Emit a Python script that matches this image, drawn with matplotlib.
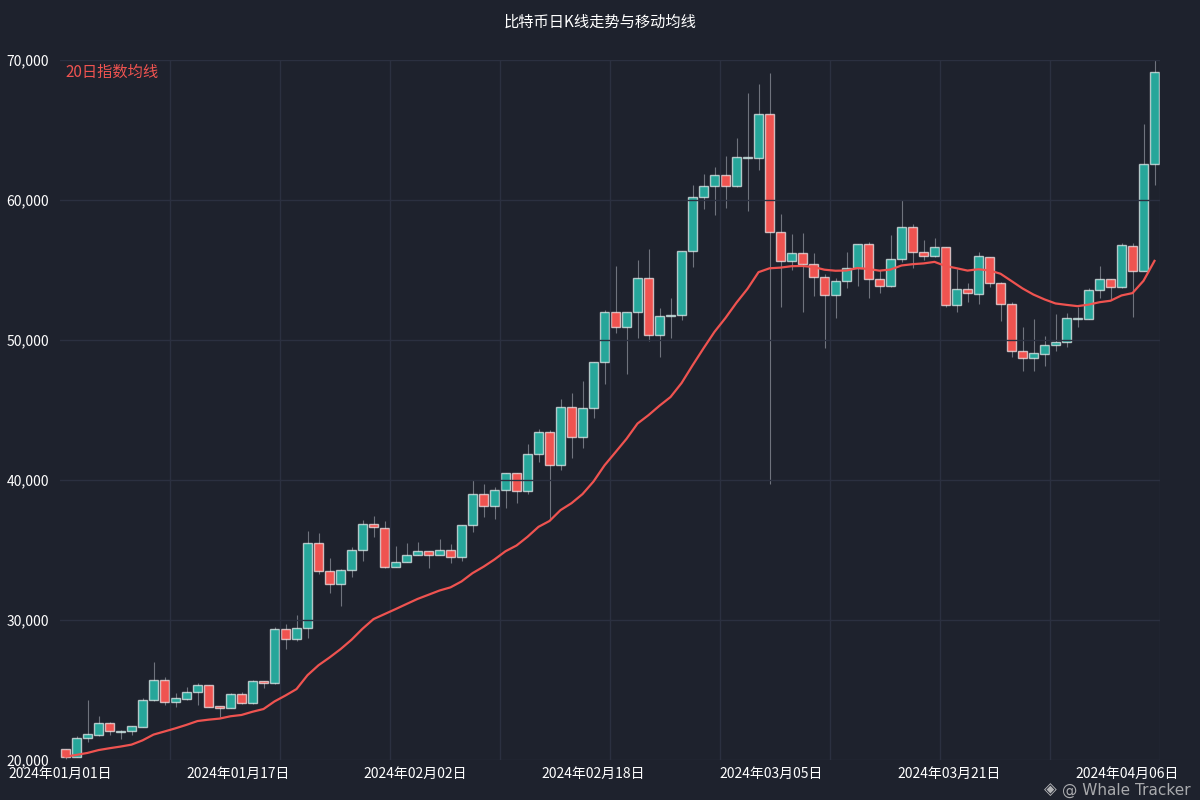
import numpy as np
import pandas as pd
import matplotlib
matplotlib.use("Agg")
import matplotlib.pyplot as plt
from matplotlib.ticker import FuncFormatter

plt.rcParams['font.family'] = ['Noto Sans CJK SC', 'DejaVu Sans']

# daily OHLC
opens = [20760, 20190, 21550, 21790, 22660, 22000, 22050, 22380, 24290, 25710,
         24160, 24360, 24860, 25360, 23840, 23690, 24710, 24090, 25620, 25480,
         29340, 28640, 29410, 35480, 33520, 32570, 33570, 34980, 36840, 36590,
         33810, 34140, 34620, 34930, 34660, 35020, 34480, 36760, 38980, 38160,
         39260, 40480, 39210, 41860, 43410, 41050, 45210, 43050, 45160, 48450,
         51980, 50950, 51980, 54410, 50340, 51690, 51810, 56360, 60190, 61000,
         61790, 61000, 62970, 63020, 66140, 57740, 55640, 56240, 55430, 54520,
         53190, 54240, 55120, 56860, 54340, 53860, 55790, 58070, 56310, 55980,
         56620, 52500, 53620, 53290, 55950, 54090, 52570, 49240, 48690, 49000,
         49620, 49840, 51500, 51500, 53570, 54340, 53790, 56740, 54950, 62590]
highs = [20790, 21710, 24290, 23140, 22710, 22110, 22430, 24450, 27020, 25910,
         24760, 25190, 25480, 25390, 23860, 24810, 24880, 25680, 25640, 29520,
         29710, 30360, 36360, 36240, 34410, 33610, 35240, 37140, 37430, 37070,
         35290, 35480, 35570, 34960, 35790, 35410, 36790, 40000, 39710, 39520,
         40500, 40500, 42570, 43620, 43570, 45760, 46190, 47070, 48460, 52140,
         55290, 52000, 55720, 56480, 52290, 52980, 56390, 61070, 61840, 62340,
         63140, 64450, 67620, 68270, 69050, 59000, 57550, 57620, 56240, 54710,
         54410, 56310, 56890, 57020, 55000, 57500, 60000, 58270, 57140, 57310,
         56640, 55070, 54090, 56310, 55960, 54110, 52740, 50950, 51500, 50290,
         51840, 51950, 52380, 53740, 55310, 54360, 56910, 56950, 65430, 70000]
lows = [20070, 20180, 21310, 21710, 21790, 21520, 21790, 22340, 24250, 23930,
        23810, 24320, 23930, 23790, 23090, 23680, 24000, 24000, 25160, 25460,
        27910, 28500, 28690, 33260, 31910, 31020, 33050, 34240, 35950, 33750,
        33790, 34110, 34610, 33710, 34640, 34090, 34240, 36310, 37380, 37210,
        38020, 38380, 38980, 41310, 37140, 40710, 41550, 42260, 44410, 46840,
        50520, 47550, 50160, 49930, 48810, 50160, 51430, 55190, 59340, 58930,
        59450, 60930, 59240, 62140, 39710, 52380, 55000, 52020, 53140, 49450,
        51590, 53740, 53860, 52980, 53340, 53820, 55590, 55170, 55720, 55960,
        52340, 52020, 52690, 52570, 53810, 51380, 48810, 47810, 47810, 48170,
        49210, 49520, 50910, 51470, 52980, 52910, 53750, 51670, 54930, 61070]
closes = [20240, 21550, 21840, 22640, 22090, 22090, 22410, 24290, 25740, 24160,
          24410, 24860, 25360, 23810, 23690, 24710, 24090, 25640, 25480, 29340,
          28640, 29410, 35480, 33520, 32570, 33570, 34980, 36840, 36620, 33810,
          34140, 34620, 34930, 34660, 34980, 34480, 36760, 38980, 38160, 39260,
          40480, 39210, 41860, 43410, 41050, 45210, 43050, 45160, 48450, 51980,
          50950, 51980, 54410, 50340, 51710, 51810, 56360, 60190, 61000, 61790,
          61000, 63050, 63040, 66140, 57740, 55640, 56240, 55430, 54520, 53190,
          54240, 55120, 56860, 54340, 53880, 55770, 58070, 56310, 55980, 56640,
          52500, 53620, 53340, 55980, 54090, 52550, 49240, 48690, 49050, 49640,
          49860, 51550, 51550, 53550, 54340, 53810, 56770, 54950, 62570, 69170]
dates = pd.date_range('2024-01-01', periods=len(closes), freq='D')
ma_span = 20
y_ticks = [20000, 30000, 40000, 50000, 60000, 70000]

bg = '#1e222d'
up_color = '#26a69a'
down_color = '#ef5350'
grid_color = (0.17, 0.19, 0.25, 0.7)

o = np.array(opens, dtype=float)
h = np.array(highs, dtype=float)
l = np.array(lows, dtype=float)
c = np.array(closes, dtype=float)
x = np.arange(len(c))
ma = pd.Series(c).ewm(span=ma_span, adjust=False).mean()

fig = plt.figure(figsize=(12, 8), dpi=100, facecolor=bg)
ax = fig.add_axes([0.05, 0.05, 1100 / 1200, 0.875])
ax.set_facecolor(bg)

colors = np.where(c >= o, up_color, down_color)
ax.vlines(x, l, h, color='#6f737d', lw=0.8, zorder=1)
ax.bar(x, np.abs(c - o), bottom=np.minimum(o, c), width=0.78, color=colors,
       edgecolor=(1, 1, 1, 0.65), linewidth=1, zorder=2)
ax.plot(x, ma, color=down_color, lw=1.6, zorder=3)

ax.set_xlim(-0.5, len(c) - 0.5)
ax.set_ylim(y_ticks[0], y_ticks[-1])
ax.set_yticks(y_ticks)
ax.yaxis.set_major_formatter(FuncFormatter(lambda v, p: f'{v:,.0f}'))

tick_pos = np.linspace(-0.5, 96.5, 7)
ax.set_xticks(tick_pos)
ax.set_xticklabels([dates[int(round(max(p, 0)))].strftime('%Y年%m月%d日') for p in tick_pos])
ax.set_xticks(np.arange(-0.5, len(c), 10), minor=True)

ax.grid(False)
ax.yaxis.grid(True, color=grid_color, lw=1, zorder=4)
ax.xaxis.grid(True, which='minor', color=grid_color, lw=1, zorder=4)
ax.set_axisbelow(False)
for s in ax.spines.values():
    s.set_visible(False)
ax.tick_params(axis='both', which='both', length=0, colors='white', labelsize=10)
ax.tick_params(axis='y', pad=8)
ax.tick_params(axis='x', pad=5)

fig.text(0.5, 1 - 22 / 800, '比特币日K线走势与移动均线', color='white', fontsize=11,
         ha='center', va='center')
ax.text(0.005, 0.983, '20日指数均线', color=down_color, fontsize=11,
        transform=ax.transAxes, va='center', ha='left')

# watermark, kept just below the date labels
fig.text(1050 / 1200, 1 - 790 / 800, '◈', color='#d8d8d8', alpha=0.8, fontsize=12,
         ha='center', va='center', family='DejaVu Sans')
fig.text(1062 / 1200, 1 - 790 / 800, '@ Whale Tracker', color='#d8d8d8', alpha=0.75,
         fontsize=11, ha='left', va='center', family='DejaVu Sans')

fig.savefig('out.png', dpi=100, facecolor=bg)
